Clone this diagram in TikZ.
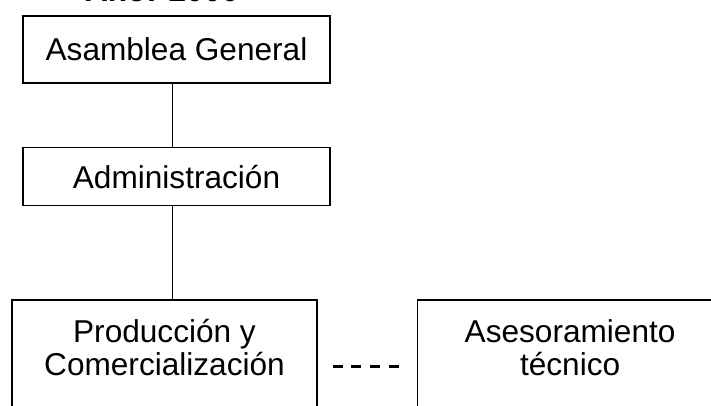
\documentclass[tikz,border=0pt]{standalone}
\usepackage{fontspec}
\setmainfont{Liberation Sans}
\usetikzlibrary{positioning}

\tikzset{
  orgbox/.style={draw, line width=0.8pt, minimum width=153.5pt, inner sep=0pt},
  boxtext/.style={align=center, font=\fontsize{15.8}{16.5}\selectfont},
}

\begin{document}
\begin{tikzpicture}[x=0.5pt,y=-0.5pt]
\useasboundingbox (0,0) rectangle (711,406);
\clip (0,0) rectangle (711,406);
\node[anchor=base, font=\fontsize{15.8}{19}\selectfont\bfseries] (year) at (162,2) {Año: 2000};
\node[orgbox, minimum height=33.5pt, boxtext] (asamblea) at (176.5,49.5) {Asamblea General};
\node[orgbox, minimum height=29pt, boxtext, below=31.5pt of asamblea] (admin) {Administración};
\node[orgbox, minimum width=152.5pt, minimum height=66pt, below=46.5pt of admin, xshift=-6pt] (prod) {};
\node[orgbox, minimum width=152.5pt, minimum height=66pt, right=49.5pt of prod] (ases) {};
\node[boxtext] (prodtext) at ([yshift=-24pt]prod.north) {Producción y\\Comercialización};
\node[boxtext] (asestext) at ([yshift=-24pt]ases.north) {Asesoramiento\\técnico};
% lines
\draw[line width=0.8pt] ([xshift=-2pt]asamblea.south) -- ([xshift=-2pt]admin.north);
\draw[line width=0.8pt] ([xshift=-2pt]admin.south) -- ([xshift=-2pt]prod.north -| admin.south);
\draw[line width=1.4pt, dash pattern=on 5pt off 4.3pt, shorten <=7.5pt, shorten >=9pt] (prod) -- (ases);
\end{tikzpicture}
\end{document}
